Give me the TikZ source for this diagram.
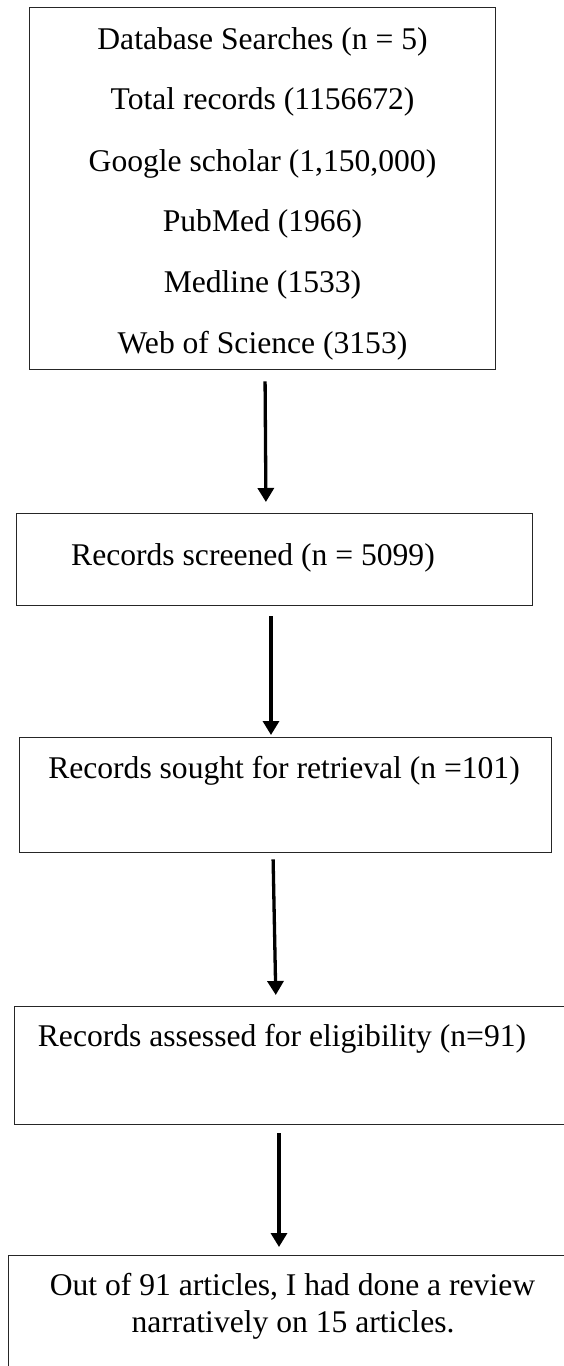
\documentclass[tikz,border=0pt]{standalone}
\usepackage{fontspec}
\setmainfont{Liberation Serif}
\usetikzlibrary{arrows.meta}

\def \boxLine {1.4pt}
\def \arrowLine {3.3pt}

\tikzset{
  box/.style={draw=black!85, line width=\boxLine, rectangle, anchor=north west, inner sep=0pt},
  txt/.style={anchor=base, inner sep=0pt, font=\fontsize{31.6}{38}\selectfont},
  flow/.style={line width=\arrowLine, -{Triangle[length=14pt,width=16pt]}}
}

\begin{document}
\begin{tikzpicture}[x=1pt,y=-1pt]
         \useasboundingbox (0,0) rectangle (564,1366);
         % boxes
         \node[box, minimum width=466pt, minimum height=362pt] (b1) at (29,7) {};
         \node[box, minimum width=516pt, minimum height=92pt] (b2) at (16,513) {};
         \node[box, minimum width=532pt, minimum height=115pt] (b3) at (19,737) {};
         \node[box, minimum width=560pt, minimum height=118pt] (b4) at (14,1006) {};
         \node[box, minimum width=566pt, minimum height=140pt] (b5) at (8,1255) {};
         % texts
         \node[txt] (dbSearch) at (262.5,49) {Database Searches (n = 5)};
         \node[txt] (dbTotal) at (262.5,109) {Total records (1156672)};
         \node[txt] (dbScholar) at (262.5,171) {Google scholar (1,150,000)};
         \node[txt] (dbPubmed) at (262.5,231) {PubMed (1966)};
         \node[txt] (dbMedline) at (262.5,292) {Medline (1533)};
         \node[txt] (dbWos) at (262.5,353) {Web of Science (3153)};
         \node[txt] (screened) at (253,565) {Records screened (n = 5099)};
         \node[txt] (sought) at (284,778) {Records sought for retrieval (n =101)};
         \node[txt] (assessed) at (282,1046) {Records assessed for eligibility (n=91)};
         \node[txt] (reviewA) at (292.5,1295) {Out of 91 articles, I had done a review};
         \node[txt] (reviewB) at (293,1332) {narratively on 15 articles.};
         % arrows
         \draw[flow, shorten <=11pt, shorten >=11pt] (b1.south -| 265,0) -- (b2.north -| 266,0);
         \draw[flow, shorten <=10pt, shorten >=2pt] (b2.south -| 271,0) -- (b3.north -| 271,0);
         \draw[flow, shorten <=6pt, shorten >=11pt] (b3.south -| 273,0) -- (b4.north -| 276,0);
         \draw[flow, shorten <=8pt, shorten >=8pt] (b4.south -| 279,0) -- (b5.north -| 279,0);
      \end{tikzpicture}
\end{document}
